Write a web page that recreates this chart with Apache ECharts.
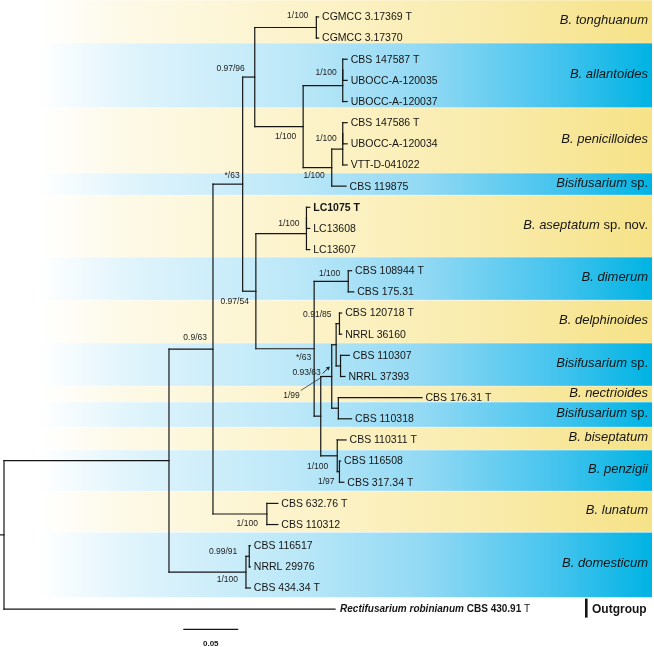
<!DOCTYPE html>
<html><head><meta charset="utf-8">
<script src="https://cdn.jsdelivr.net/npm/echarts@6/dist/echarts.min.js"></script>
<style>html,body{margin:0;padding:0;background:#fff}#c{width:654px;height:647px}</style>
</head><body><div id="c"></div>
<script>
// ---- leaves (row order, top to bottom) ----
const leafNames = ['CGMCC 3.17369 T','CGMCC 3.17370','CBS 147587 T','UBOCC-A-120035','UBOCC-A-120037',
 'CBS 147586 T','UBOCC-A-120034','VTT-D-041022','CBS 119875','LC1075 T','LC13608','LC13607',
 'CBS 108944 T','CBS 175.31','CBS 120718 T','NRRL 36160','CBS 110307','NRRL 37393','CBS 176.31 T',
 'CBS 110318','CBS 110311 T','CBS 116508','CBS 317.34 T','CBS 632.76 T','CBS 110312','CBS 116517',
 'NRRL 29976','CBS 434.34 T','Rectifusarium robinianum CBS 430.91 T'];
// cumulative distance from root (substitutions/site)
const leafDepth = [0.286,0.286,0.312,0.312,0.312,0.312,0.312,0.312,0.311,0.278,0.278,0.278,
 0.316,0.318,0.307,0.307,0.314,0.310,0.380,0.316,0.311,0.306,0.309,0.249,0.249,0.224,0.224,0.224,0.301];
const boldLeaves = [9];

// ---- internal nodes ----
const nodeIds   = ['root','in','A','B','C','ton','D','all','all2','E','pen','pen2','F','ase','ase2','G','dim','H','I','J','del','bis','K','L','pz','lun','dom','dom2'];
const nodeDepth = [0,0.150,0.190,0.217,0.228,0.284,0.272,0.308,0.308,0.298,0.308,0.308,0.229,0.275,0.275,0.282,0.313,0.288,0.298,0.302,0.305,0.306,0.304,0.303,0.305,0.239,0.220,0.223];
const nodeKids  = [['in',28],['A','dom'],['B','lun'],['C','F'],['ton','D'],[0,1],['all','E'],['all2',4],[2,3],['pen',8],['pen2',7],[5,6],
 ['ase','G'],['ase2',11],[9,10],['dim','H'],[12,13],['I','L'],['J','K'],['del','bis'],[14,15],[16,17],[18,19],[20,'pz'],[21,22],[23,24],['dom2',27],[25,26]];

// ---- support values (PP/BS) ----
const supportNode = ['ton','all','C','D','pen','E','B','ase','F','A','dim','del','J','I','I','L','pz','lun','dom2','dom'];
const supportText = ['1/100','1/100','0.97/96','1/100','1/100','1/100','*/63','1/100','0.97/54','0.9/63','1/100','0.91/85','*/63','0.93/63','1/99','1/100','1/97','1/100','0.99/91','1/100'];

// ---- clades (coloured bands, row ranges) ----
const cladeNames = ['{i|B. tonghuanum}','{i|B. allantoides}','{i|B. penicilloides}','{i|Bisifusarium} sp.','{i|B. aseptatum} sp. nov.',
 '{i|B. dimerum}','{i|B. delphinoides}','{i|Bisifusarium} sp.','{i|B. nectrioides}','{i|Bisifusarium} sp.','{i|B. biseptatum}',
 '{i|B. penzigii}','{i|B. lunatum}','{i|B. domesticum}'];
const cladeFrom = [-0.8,1.23,4.30,7.38,8.42,11.35,13.39,15.42,17.45,18.21,19.39,20.48,22.42,24.36];
const cladeTo   = [1.23,4.30,7.38,8.42,11.35,13.39,15.42,17.45,18.21,19.39,20.48,22.42,24.36,27.44];
const cladeColour = ['y','b','y','b','y','b','y','b','y','b','y','b','y','b'];

// ---- scale bar ----
const scaleStart = 0.163, scaleLength = 0.05, scaleText = '0.05';
const outgroupText = 'Outgroup';

// ---------- layout helpers (style only) ----------
const supportOffset = [[-8,-11.5],[-6,-12.7],[-10,-8],[-7,10],[-6,-10],[-7,8.5],[-3,-8],[-7,-10],[-7,10],[-6,-11],[-8,-8],[-8,-8.6],[-25,13],[-11,-4],[-32,19],[-9,11],[-5,9.5],[-9,10],[-12,-5],[-8,8]];
const FONT = "'Liberation Sans', Arial, sans-serif";
const INK = '#151515';

function isLeaf(k){ return typeof k === 'number'; }
function xOf(k){ return isLeaf(k) ? leafDepth[k] : nodeDepth[nodeIds.indexOf(k)]; }
function yOf(k){
  if (isLeaf(k)) return k;
  const kids = nodeKids[nodeIds.indexOf(k)];
  return (yOf(kids[0]) + yOf(kids[kids.length-1])) / 2;
}
const segs = [];
nodeIds.forEach((id, i) => {
  const kids = nodeKids[i], x = nodeDepth[i];
  segs.push([x, yOf(kids[0]), x, yOf(kids[kids.length-1])]);
  kids.forEach(k => segs.push([x, yOf(k), xOf(k), yOf(k)]));
});
segs.push([-0.0036, yOf('root'), 0, yOf('root')]);

const chart = echarts.init(document.getElementById('c'), null, {renderer:'canvas'});
const blueGrad = () => new echarts.graphic.LinearGradient(0,0,1,0,[
  {offset:0,color:'#ffffff'},{offset:0.06,color:'#ffffff'},{offset:0.2,color:'#e0f4fc'},
  {offset:0.45,color:'#bce8f8'},{offset:0.65,color:'#92d9f4'},{offset:0.85,color:'#46c4ee'},{offset:1,color:'#00b3e3'}]);
const yellowGrad = () => new echarts.graphic.LinearGradient(0,0,1,0,[
  {offset:0,color:'#ffffff'},{offset:0.06,color:'#ffffff'},{offset:0.2,color:'#fdf9e6'},
  {offset:0.5,color:'#fcf2c6'},{offset:0.75,color:'#f9ebab'},{offset:1,color:'#f6e287'}]);

chart.setOption({
  animation:false,
  grid:{left:4, top:0, width:650, height:643},
  xAxis:{type:'value', min:0, max:0.591, show:false},
  yAxis:{type:'value', inverse:true, min:-0.8, max:29.6, show:false},
  series:[
    { // bands
      type:'custom', z:1,
      data: cladeFrom.map((f,i)=>[0, f, cladeTo[i], i]),
      renderItem:(params, api)=>{
        const i = api.value(3);
        const y1 = api.coord([0, api.value(1)])[1], y2 = api.coord([0, api.value(2)])[1];
        const W = api.getWidth();
        return {type:'group', children:[
          {type:'rect', shape:{x:0, y:y1, width:W-2, height:y2-y1},
           style:{fill: cladeColour[i]==='b' ? blueGrad() : yellowGrad()}},
          {type:'rect', shape:{x:0, y:y1-0.3, width:W-2, height:0.8},
           style:{fill:'rgba(255,255,255,0.55)'}},
          {type:'text', style:{text:cladeNames[i], x:W-6, y:(y1+y2)/2-1, align:'right', verticalAlign:'middle',
            fontSize:13, fontFamily:FONT, fill:INK,
            rich:{i:{fontStyle:'italic', fontSize:13, fontFamily:FONT, fill:INK}}}}
        ]};
      }
    },
    { // branches
      type:'custom', z:3,
      data: segs,
      renderItem:(params, api)=>{
        const p1 = api.coord([api.value(0), api.value(1)]);
        const p2 = api.coord([api.value(2), api.value(3)]);
        return {type:'line', shape:{x1:p1[0], y1:p1[1], x2:p2[0], y2:p2[1]},
          style:{stroke:INK, lineWidth:1.2, lineCap:'square'}};
      }
    },
    { // leaf labels
      type:'custom', z:4,
      data: leafNames.map((n,i)=>[leafDepth[i], i, i]),
      renderItem:(params, api)=>{
        const i = api.value(2);
        const p = api.coord([api.value(0), api.value(1)]);
        if (i === 28) {
          return {type:'text', style:{text:'{i|Rectifusarium robinianum} {b|CBS 430.91} T', x:p[0]+5, y:p[1]+0.5,
            verticalAlign:'middle', fontSize:10, fontFamily:FONT, fill:INK,
            rich:{i:{fontStyle:'italic', fontWeight:'bold', fontSize:10, fontFamily:FONT, fill:INK},
                  b:{fontWeight:'bold', fontSize:10, fontFamily:FONT, fill:INK}}}};
        }
        return {type:'text', style:{text:leafNames[i], x:p[0]+3.5, y:p[1]+0.5, verticalAlign:'middle',
          fontSize:10.5, fontFamily:FONT, fill:INK, fontWeight: boldLeaves.includes(i) ? 'bold' : 'normal'}};
      }
    },
    { // support values
      type:'custom', z:4,
      data: supportNode.map((n,i)=>[xOf(n), yOf(n), i]),
      renderItem:(params, api)=>{
        const i = api.value(2);
        const p = api.coord([api.value(0), api.value(1)]);
        const o = supportOffset[i];
        const children = [{type:'text', style:{text:supportText[i], x:p[0]+o[0], y:p[1]+o[1], align:'right',
          verticalAlign:'middle', fontSize:8.5, fontFamily:FONT, fill:'#222'}}];
        if (supportText[i] === '1/99') {
          children.push({type:'line', shape:{x1:p[0]-31, y1:p[1]+14, x2:p[0]-9, y2:p[1]},
            style:{stroke:'#333', lineWidth:0.8}});
        }
        if (supportText[i] === '0.93/63') {
          children.push({type:'polyline', shape:{points:[[p[0]-9,p[1]-3],[p[0]-3,p[1]-9]]},
            style:{stroke:'#222', lineWidth:1, fill:null}});
          children.push({type:'polygon', shape:{points:[[p[0]-2,p[1]-10],[p[0]-6,p[1]-9],[p[0]-3,p[1]-6]]},
            style:{fill:'#222'}});
        }
        return {type:'group', children};
      }
    },
    { // scale bar + outgroup marker
      type:'custom', z:4,
      data:[[scaleStart, 28.96, scaleStart+scaleLength]],
      renderItem:(params, api)=>{
        const a = api.coord([api.value(0), api.value(1)]);
        const b = api.coord([api.value(2), api.value(1)]);
        const og1 = api.coord([0, 27.5])[1], og2 = api.coord([0, 28.4])[1], ogm = api.coord([0, 28])[1];
        return {type:'group', children:[
          {type:'line', shape:{x1:a[0], y1:a[1], x2:b[0], y2:b[1]}, style:{stroke:INK, lineWidth:1.2}},
          {type:'text', style:{text:scaleText, x:(a[0]+b[0])/2, y:a[1]+14, align:'center', verticalAlign:'middle',
            fontSize:8, fontWeight:'bold', fontFamily:FONT, fill:INK}},
          {type:'rect', shape:{x:585, y:og1, width:2.6, height:og2-og1}, style:{fill:INK}},
          {type:'text', style:{text:outgroupText, x:592, y:ogm+0.5, verticalAlign:'middle',
            fontSize:12, fontWeight:'bold', fontFamily:FONT, fill:INK}}
        ]};
      }
    }
  ]
});
</script></body></html>
